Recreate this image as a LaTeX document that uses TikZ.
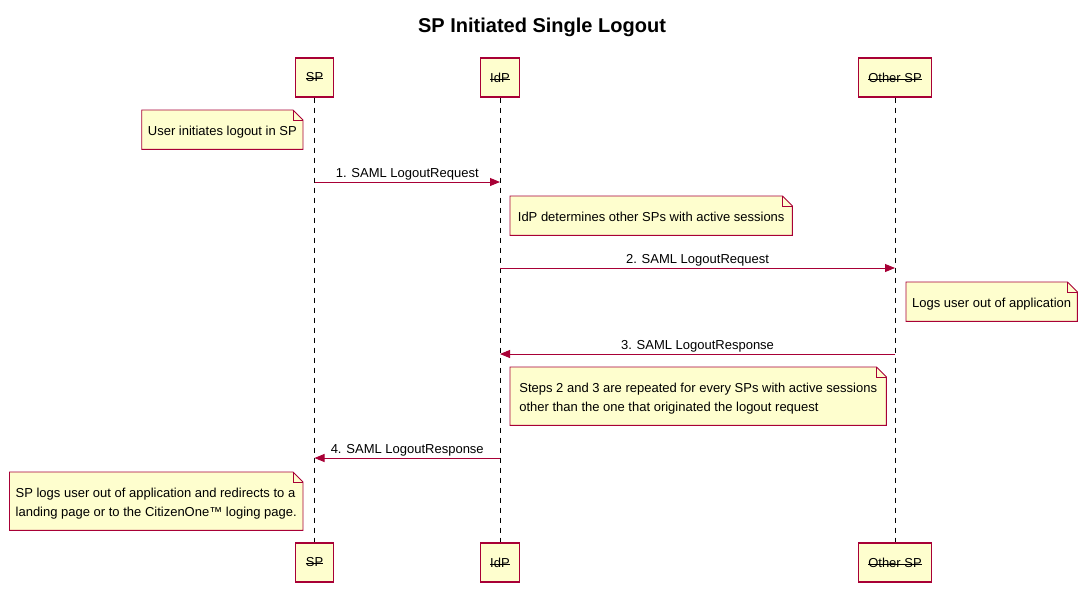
\documentclass[tikz,border=0pt]{standalone}
\usepackage{fontspec}
\setmainfont{Liberation Sans}
\usepackage{tikz}
\usetikzlibrary{arrows.meta,backgrounds}
\definecolor{umlred}{HTML}{A80036}
\definecolor{umlfill}{HTML}{FEFECE}
\newcommand\plabel[1]{\setbox0\hbox{#1}\rlap{\rule[2.8pt]{\wd0}{0.8pt}}\box0}
\newcommand\ntop{\rule{0pt}{15pt}}
\newcommand\nbot{\rule[-4pt]{0pt}{4pt}}
\tikzset{
  basefont/.style={font=\fontsize{13}{19}\selectfont},
  actor/.style={basefont, draw=umlred, fill=umlfill, line width=1.3pt, minimum height=39pt, inner xsep=10pt},
  lifeline/.style={dash pattern=on 5pt off 5pt, line width=0.8pt},
  msg/.style={draw=umlred, line width=0.9pt, -{Triangle[length=10pt,width=8pt]}},
  msglabel/.style={basefont, above, inner sep=1pt},
  note/.style={basefont, align=left, inner xsep=6pt, inner ysep=10pt},
  noteline/.style={draw=umlred, fill=umlfill, line width=0.9pt},
}
\begin{document}
\begin{tikzpicture}[x=1pt,y=-1pt]
\useasboundingbox (0,0) rectangle (1084,606);
\node[font=\fontsize{20}{24}\selectfont\bfseries, anchor=base] (title) at (542,32) {SP Initiated Single Logout};

\node[actor] (sp) at (314.5,77.5) {\plabel{SP}};
\node[actor] (idp) at (500,77.5) {\plabel{IdP}};
\node[actor] (osp) at (895,77.5) {\plabel{Other SP}};
\node[actor] (spb) at (314.5,562.5) {\plabel{SP}};
\node[actor] (idpb) at (500,562.5) {\plabel{IdP}};
\node[actor] (ospb) at (895,562.5) {\plabel{Other SP}};

\draw[lifeline] (sp) -- (spb);
\draw[lifeline] (idp) -- (idpb);
\draw[lifeline] (osp) -- (ospb);

\node[note, anchor=north east] (n1) at (303,110) {\ntop User initiates logout in SP\nbot};
\node[note, anchor=north west, minimum width=282pt] (n2) at (510,196) {\ntop IdP determines other SPs with active sessions\nbot};
\node[note, anchor=north west] (n3) at (906,282) {\ntop Logs user out of application\nbot};
\node[note, anchor=north west, minimum width=376pt] (n4) at (510,367) {\ntop Steps 2 and 3 are repeated for every SPs with active sessions\\other than the one that originated the logout request\nbot};
\node[note, anchor=north east] (n5) at (303,472) {\ntop SP logs user out of application and redirects to a\\landing page or to the CitizenOne™ loging page.\nbot};

\begin{pgfonlayer}{background}
\foreach \n in {n1,n2,n3,n4,n5} {
  \draw[noteline] (\n.south west) |- ([xshift=-10pt]\n.north east) -- ([yshift=-10pt]\n.north east) -- (\n.south east) -- cycle;
  \draw[draw=umlred, line width=0.9pt] ([xshift=-10pt]\n.north east) |- ([yshift=-10pt]\n.north east);
}
\end{pgfonlayer}

\coordinate (r1) at (0,182);
\coordinate (r2) at (0,268);
\coordinate (r3) at (0,354);
\coordinate (r4) at (0,458);
\draw[msg] (sp |- r1) -- node[msglabel] {1. SAML LogoutRequest} (idp |- r1);
\draw[msg] (idp |- r2) -- node[msglabel] {2. SAML LogoutRequest} (osp |- r2);
\draw[msg] (osp |- r3) -- node[msglabel] {3. SAML LogoutResponse} (idp |- r3);
\draw[msg] (idp |- r4) -- node[msglabel] {4. SAML LogoutResponse} (sp |- r4);
\end{tikzpicture}
\end{document}
